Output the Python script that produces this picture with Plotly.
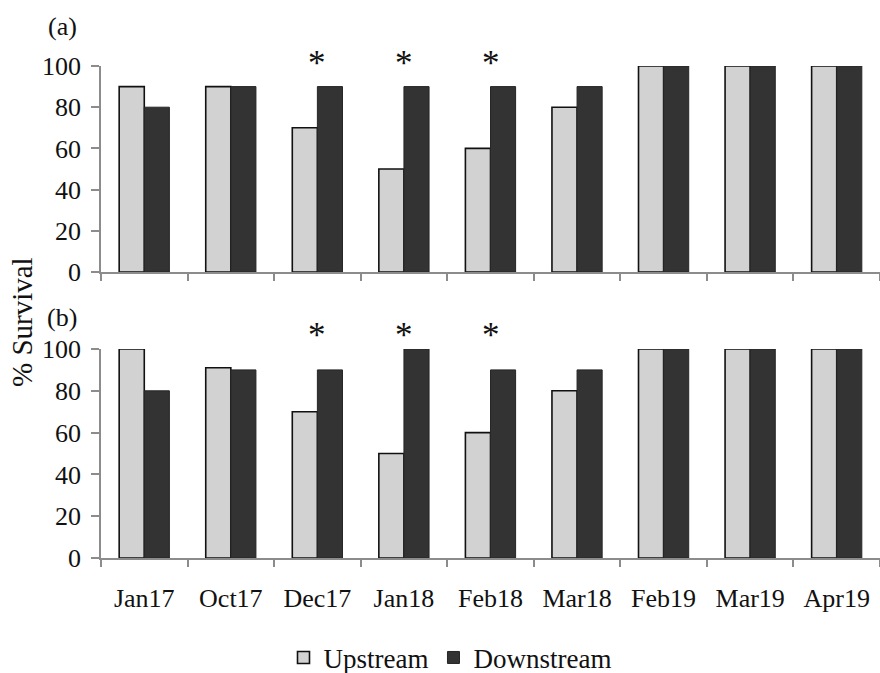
import plotly.graph_objects as go

categories = ["Jan17", "Oct17", "Dec17", "Jan18", "Feb18", "Mar18", "Feb19", "Mar19", "Apr19"]
up_a = [90, 90, 70, 50, 60, 80, 100, 100, 100]
down_a = [80, 90, 90, 90, 90, 90, 100, 100, 100]
up_b = [100, 91, 70, 50, 60, 80, 100, 100, 100]
down_b = [80, 90, 90, 100, 90, 90, 100, 100, 100]
sig_cats = ["Dec17", "Jan18", "Feb18"]
y_ticks = [0, 20, 40, 60, 80, 100]

FONT = "Liberation Serif"
TXT = "#111111"
UP_COL = "#d2d2d2"
DOWN_COL = "#333333"
AX_COL = "#8c8c8c"

W, H = 880.0, 673.0
L = 101.0

fig = go.Figure()
for xa, ya, up, down, show in [("x", "y", up_a, down_a, True), ("x2", "y2", up_b, down_b, False)]:
    fig.add_trace(go.Bar(x=categories, y=up, name="Upstream",
                         marker=dict(color=UP_COL, line=dict(color="#111111", width=1.6)),
                         xaxis=xa, yaxis=ya, showlegend=show, legendgroup="up"))
    fig.add_trace(go.Bar(x=categories, y=down, name="Downstream",
                         marker=dict(color=DOWN_COL, line=dict(color="#262626", width=1)),
                         xaxis=xa, yaxis=ya, showlegend=show, legendgroup="down"))


def dom(top_px, bot_px):
    return [1 - bot_px / H, 1 - top_px / H]


xcommon = dict(type="category", categoryorder="array", categoryarray=categories, showline=True, linecolor=AX_COL,
               linewidth=1.5, ticks="outside", tickson="boundaries", ticklen=7, tickcolor=AX_COL, tickwidth=1.5,
               showgrid=False, zeroline=False, domain=[0, 1], range=[-0.5, 8.5],
               tickfont=dict(family=FONT, size=26, color=TXT))
ycommon = dict(range=[0, 100], tickvals=y_ticks, showline=True, linecolor=AX_COL, linewidth=1.5, ticks="outside",
               ticklen=8, tickcolor=AX_COL, tickwidth=1.5, showgrid=False, zeroline=False, ticklabelstandoff=5,
               tickfont=dict(family=FONT, size=26, color=TXT))

fig.update_layout(
    width=W, height=H,
    margin=dict(l=L, r=0, t=0, b=0, autoexpand=False),
    paper_bgcolor="white", plot_bgcolor="white",
    barmode="group", bargap=0.42, bargroupgap=0,
    font=dict(family=FONT, size=26, color=TXT),
    xaxis=dict(**xcommon, anchor="y", showticklabels=False),
    yaxis=dict(**ycommon, domain=dom(66, 272), anchor="x"),
    xaxis2=dict(**xcommon, anchor="y2", ticklabelstandoff=16),
    yaxis2=dict(**ycommon, domain=dom(349, 558), anchor="x2"),
    legend=dict(orientation="h", x=(450 - L) / (W - L), xanchor="center", y=-0.014, yanchor="bottom",
                font=dict(family=FONT, size=27, color=TXT), itemwidth=30, traceorder="normal",
                bgcolor="rgba(0,0,0,0)"),
)

annotations = []
for c in sig_cats:
    annotations.append(dict(x=c, y=1.024, xref="x", yref="y domain", text="*", showarrow=False, yanchor="middle",
                            font=dict(family=FONT, size=35, color=TXT), yshift=-2))
    annotations.append(dict(x=c, y=1.081, xref="x2", yref="y2 domain", text="*", showarrow=False, yanchor="middle",
                            font=dict(family=FONT, size=35, color=TXT), yshift=-3))


def px_note(text, px, py, size, angle=0):
    return dict(x=(px - L) / (W - L), y=1 - py / H, xref="paper", yref="paper", text=text, showarrow=False,
                xanchor="center", yanchor="middle", textangle=angle, font=dict(family=FONT, size=size, color=TXT))


annotations.append(px_note("(a)", 62, 27, 26))
annotations.append(px_note("(b)", 62, 317, 26))
annotations.append(px_note("% Survival", 22, 322, 29, angle=-90))

fig.update_layout(annotations=annotations)
fig.write_html("out.html", config={"displayModeBar": False},
               post_script="document.body.style.margin='0';")
